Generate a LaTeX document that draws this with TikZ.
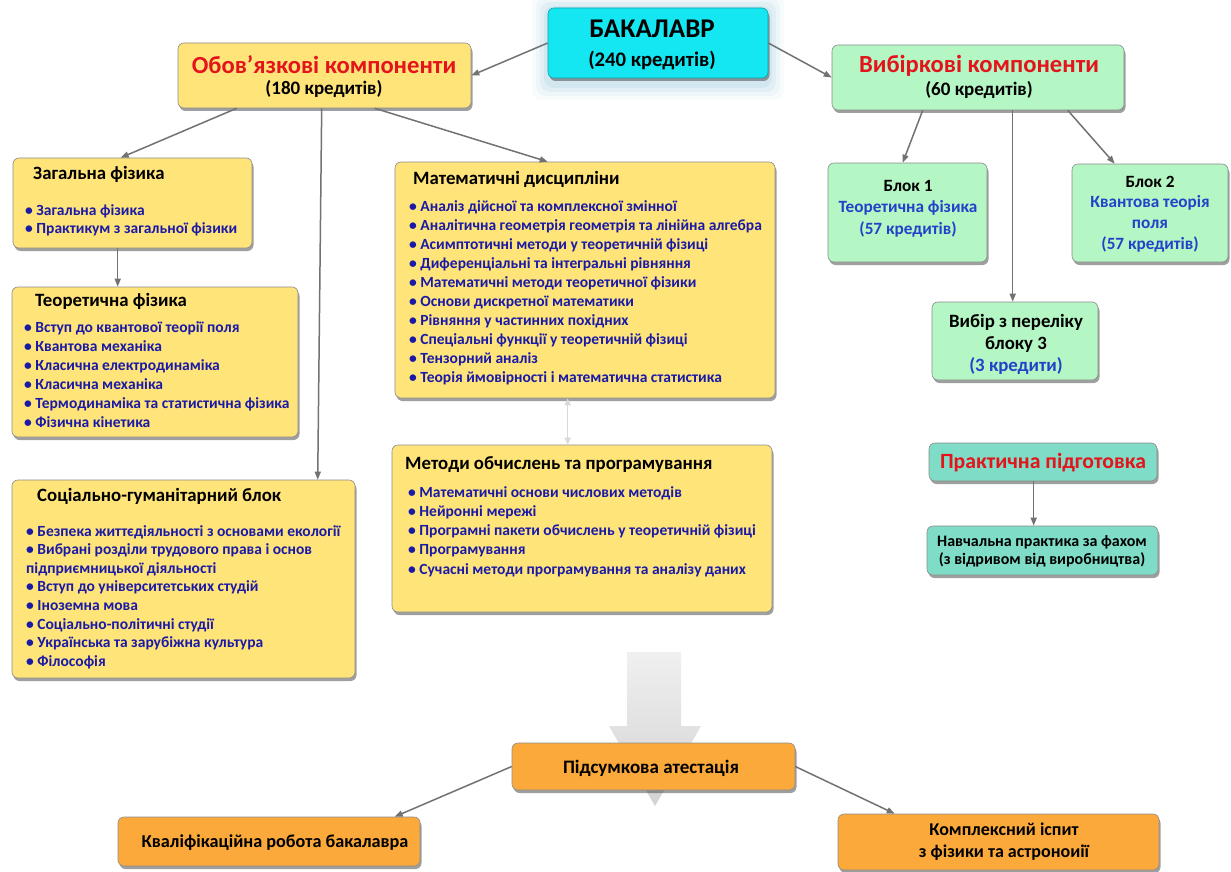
\documentclass[tikz,border=0pt]{standalone}
\usepackage{fontspec}
\setmainfont{Carlito}
\usetikzlibrary{shadows,fit,calc,arrows.meta}
\definecolor{ylw}{HTML}{FFE47A}
\definecolor{grn}{HTML}{B4F6C4}
\definecolor{cyn}{HTML}{14E6F2}
\definecolor{tea}{HTML}{7FDCC6}
\definecolor{org}{HTML}{FBA93B}
\definecolor{navy}{HTML}{1A1AA6}
\definecolor{blu}{HTML}{2341C9}
\definecolor{redt}{HTML}{E3141B}
\definecolor{arrg}{HTML}{727272}
\begin{document}
\begin{tikzpicture}[x=1pt,y=-1pt,
  box/.style={draw=black!45, line width=0.6pt, rounded corners=6pt, inner sep=0pt,
    drop shadow={shadow xshift=1.5pt, shadow yshift=-3pt, fill=black!75, opacity=0.5}},
  ybox/.style={box, fill=ylw},
  gbox/.style={box, fill=grn},
  tbox/.style={box, fill=tea},
  obox/.style={box, fill=org},
  cbox/.style={box, fill=cyn, draw=cyn!70!black},
  arr/.style={draw=arrg, line width=1.5pt, -{Triangle[length=8pt,width=6pt]}},
  hd/.style={font=\fontsize{18.8}{22}\selectfont\bfseries, anchor=north west, inner sep=0pt},
  bl/.style={text=navy, align=left, anchor=north west, inner sep=0pt},
  ct/.style={align=center, inner sep=0pt},
]
\useasboundingbox[fill=white] (0,0) rectangle (1231,872);

% big gray arrow
\shade[top color=gray!12, bottom color=gray!35] (627,652) -- (681,652) -- (681,726) -- (701,726) -- (655,806) -- (609,726) -- (627,726) -- cycle;

% glow for bachelor box
\foreach \w/\o in {16/0.04, 12/0.06, 8/0.08, 4/0.10}
  \fill[cyan!60!gray, opacity=\o, rounded corners=10pt] (548-\w,10-\w) rectangle (768+\w,84+\w);

% boxes
\node[cbox, fit={(548,8) (768,78)}] (bak) {};
\node[ybox, fit={(178,43) (471,108)}] (obov) {};
\node[gbox, fit={(832,45) (1124,110)}] (vyb) {};
\node[ybox, fit={(13,158) (252,248)}] (zf) {};
\node[ybox, fit={(12,287) (298,437)}] (teor) {};
\node[ybox, fit={(12,480) (355,678)}] (soc) {};
\node[ybox, fit={(395,162) (775,398)}] (mat) {};
\node[ybox, fit={(392,445) (772,612)}] (met) {};
\node[gbox, fit={(828,163) (987,262)}] (b1) {};
\node[gbox, fit={(1072,164) (1228,262)}] (b2) {};
\node[gbox, fit={(932,302) (1098,380)}] (vybir) {};
\node[tbox, fit={(929,443) (1157,481)}] (prak) {};
\node[tbox, fit={(927,526) (1158,575)}] (navch) {};
\node[obox, fit={(512,743) (795,790)}] (pids) {};
\node[obox, fit={(118,817) (420,866)}] (kval) {};
\node[obox, fit={(838,814) (1159,870)}] (kompl) {};

% texts
\node[font=\fontsize{27}{30}\selectfont\bfseries, inner sep=0pt] (bakt) at (652,29) {БАКАЛАВР};
\node[font=\fontsize{20.7}{24}\selectfont\bfseries, inner sep=0pt] (bakc) at (652,60) {(240 кредитів)};
\node[font=\fontsize{24.6}{28}\selectfont\bfseries, text=redt, inner sep=0pt] (obovt) at (324,65) {Обов’язкові компоненти};
\node[font=\fontsize{19}{22}\selectfont\bfseries, inner sep=0pt] (obovc) at (324,89) {(180 кредитів)};
\node[font=\fontsize{24.6}{28}\selectfont\bfseries, text=redt, inner sep=0pt] (vybt) at (979,66) {Вибіркові компоненти};
\node[font=\fontsize{19}{22}\selectfont\bfseries, inner sep=0pt] (vybc) at (979,90) {(60 кредитів)};

\node[hd] (zfh) at (33,166.5) {Загальна фізика};
\node[bl, font=\fontsize{15.5}{18}\selectfont\bfseries] (zfl) at (25,204) {• Загальна фізика\\• Практикум з загальної фізики};
\node[hd] (teorh) at (35,293.5) {Теоретична фізика};
\node[bl, font=\fontsize{15.5}{19}\selectfont\bfseries] (teorl) at (24,321) {• Вступ до квантової теорії поля\\• Квантова механіка\\• Класична електродинаміка\\• Класична механіка\\• Термодинаміка та статистична фізика\\• Фізична кінетика};
\node[hd] (soch) at (37,488.5) {Соціально-гуманітарний блок};
\node[bl, font=\fontsize{15.5}{18.6}\selectfont\bfseries] (socl) at (26,525) {• Безпека життєдіяльності з основами екології\\• Вибрані розділи трудового права і основ\\підприємницької діяльності\\• Вступ до університетських студій\\• Іноземна мова\\• Соціально-політичні студії\\• Українська та зарубіжна культура\\• Філософія};
\node[hd] (math) at (413,171.5) {Математичні дисципліни};
\node[bl, font=\fontsize{15.5}{19}\selectfont\bfseries] (matl) at (409,200) {• Аналіз дійсної та комплексної змінної\\• Аналітична геометрія геометрія та лінійна алгебра\\• Асимптотичні методи у теоретичній фізиці\\• Диференціальні та інтегральні рівняння\\• Математичні методи теоретичної фізики\\• Основи дискретної математики\\• Рівняння у частинних похідних\\• Спеціальні функції у теоретичній фізиці\\• Тензорний аналіз\\• Теорія ймовірності і математична статистика};
\node[hd] (meth) at (405,456.5) {Методи обчислень та програмування};
\node[bl, font=\fontsize{15.5}{19.25}\selectfont\bfseries] (metl) at (408,486) {• Математичні основи числових методів\\• Нейронні мережі\\• Програмні пакети обчислень у теоретичній фізиці\\• Програмування\\• Сучасні методи програмування та аналізу даних};

\node[ct, font=\fontsize{17.2}{21.5}\selectfont\bfseries] (b1t) at (908,208.5) {Блок 1\\\textcolor{blu}{Теоретична фізика}\\\textcolor{blu}{(57 кредитів)}};
\node[ct, font=\fontsize{17.2}{20.7}\selectfont\bfseries] (b2t) at (1150,214) {Блок 2\\\textcolor{blu}{Квантова теорія}\\\textcolor{blu}{поля}\\\textcolor{blu}{(57 кредитів)}};
\node[ct, font=\fontsize{18.8}{22}\selectfont\bfseries] (vybirt) at (1016,344) {Вибір з переліку\\блоку 3\\\textcolor{blu}{(3 кредити)}};
\node[font=\fontsize{21.7}{24}\selectfont\bfseries, text=redt, inner sep=0pt] (prakt) at (1043,463) {Практична підготовка};
\node[ct, font=\fontsize{16}{18}\selectfont\bfseries] (navcht) at (1042,551) {Навчальна практика за фахом\\(з відривом від виробництва)};
\node[ct, font=\fontsize{19}{22}\selectfont\bfseries] (pidst) at (651,768) {Підсумкова атестація};
\node[ct, font=\fontsize{18.2}{22}\selectfont\bfseries] (kvalt) at (275,843) {Кваліфікаційна робота бакалавра};
\node[ct, font=\fontsize{18}{22}\selectfont\bfseries] (komplt) at (1004,842) {Комплексний іспит\\з фізики та астроноиії};

% connectors
\draw[arr] (bak.west) -- (obov.east);
\draw[arr] (bak.east) -- (vyb.west);
\draw[arr] ($(obov.south west)+(59,0)$) -- ($(zf.north west)+(108,0)$);
\draw[arr] ($(obov.south west)+(144,0)$) -- ($(soc.north west)+(306,0)$);
\draw[arr] ($(obov.south west)+(197,0)$) -- ($(mat.north west)+(153,0)$);
\draw[arr] ($(zf.south west)+(105,0)$) -- ($(teor.north west)+(106,0)$);
\draw[draw=gray!30, line width=1.5pt, {Triangle[length=7pt,width=6pt]}-{Triangle[length=7pt,width=6pt]}] ($(mat.south west)+(173,0)$) -- ($(met.north west)+(176,0)$);
\draw[arr] ($(vyb.south west)+(91,0)$) -- ($(b1.north west)+(75,0)$);
\draw[arr] ($(vyb.south west)+(181,0)$) -- ($(vybir.north west)+(81,0)$);
\draw[arr] ($(vyb.south west)+(236,0)$) -- ($(b2.north west)+(43,0)$);
\draw[arr] ($(prak.south west)+(105,0)$) -- ($(navch.north west)+(107,0)$);
\draw[arr] (pids.west) -- ($(kval.north west)+(277,0)$);
\draw[arr] (pids.east) -- ($(kompl.north west)+(57,0)$);
\end{tikzpicture}
\end{document}
